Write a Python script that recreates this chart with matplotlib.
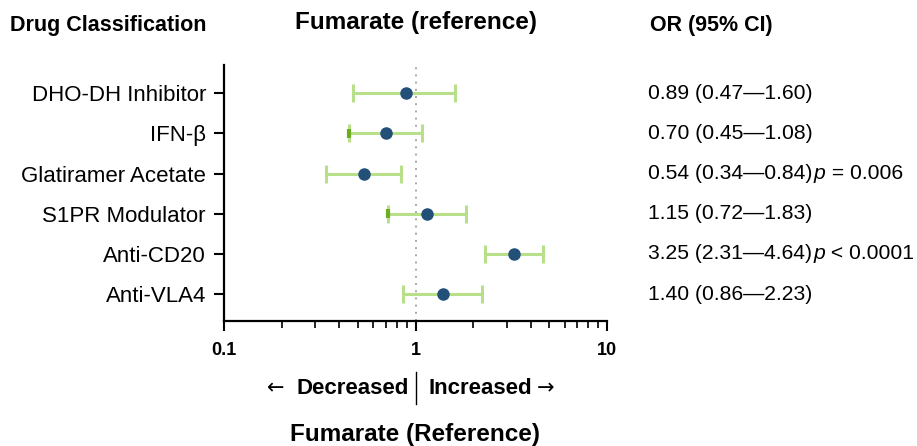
import matplotlib.pyplot as plt
import numpy as np

plt.rcParams["font.family"] = ["Liberation Sans", "DejaVu Sans"]

drugs = ["DHO-DH Inhibitor", "IFN-β", "Glatiramer Acetate",
         "S1PR Modulator", "Anti-CD20", "Anti-VLA4"]
odds = [0.89, 0.70, 0.54, 1.15, 3.25, 1.40]
lower = [0.47, 0.45, 0.34, 0.72, 2.31, 0.86]
upper = [1.60, 1.08, 0.84, 1.83, 4.64, 2.23]
pvals = ["", "", " = 0.006", "", " < 0.0001", ""]
dark_left_cap = [False, True, False, True, False, False]

fig = plt.figure(figsize=(9.17, 4.46), dpi=100)
ax = fig.add_axes([224 / 917, 1 - 321 / 446, (607 - 224) / 917, (321 - 65) / 446])

n = len(drugs)
ypos = np.arange(n, 0, -1)
odds_a = np.array(odds)
err = [odds_a - np.array(lower), np.array(upper) - odds_a]

ax.axvline(1, color="#a8a8a8", ls=(0, (1, 2.7)), lw=1.4, zorder=1)
ax.errorbar(odds, ypos, xerr=err, fmt="none", ecolor="#b8df8a", elinewidth=2.2,
            capsize=6.5, capthick=2.2, zorder=2)
for i in range(n):
    if dark_left_cap[i]:
        ax.plot([lower[i], lower[i]], [ypos[i] - 0.115, ypos[i] + 0.115],
                color="#6cae22", lw=3, zorder=3, solid_capstyle="butt")
ax.plot(odds, ypos, "o", color="#235079", ms=8, zorder=4)

ax.set_xscale("log")
ax.set_xlim(0.1, 10)
ax.set_ylim(0.33, 6.7)
ax.set_xticks([0.1, 1, 10])
ax.set_xticklabels(["0.1", "1", "10"], fontweight="bold", fontsize=13)
ax.set_yticks(ypos)
ax.set_yticklabels(drugs, fontsize=16)
ax.tick_params(axis="x", which="major", length=7, width=1.5, pad=8)
ax.tick_params(axis="x", which="minor", length=5, width=1.2)
ax.tick_params(axis="y", length=7, width=1.5, pad=6)
for side in ["top", "right"]:
    ax.spines[side].set_visible(False)
for side in ["left", "bottom"]:
    ax.spines[side].set_linewidth(1.6)

for i in range(n):
    txt = "%.2f (%.2f—%.2f)" % (odds[i], lower[i], upper[i])
    t = ax.annotate(txt, xy=(648 / 917, ypos[i]), xycoords=("figure fraction", "data"),
                    va="center", ha="left", fontsize=15.2)
    if pvals[i]:
        tp = ax.annotate("p", xy=(1, 0.5), xycoords=t, xytext=(1, 0),
                         textcoords="offset points", va="center", ha="left",
                         fontsize=15.2, style="italic")
        ax.annotate(pvals[i], xy=(1, 0.5), xycoords=tp, va="center", ha="left",
                    fontsize=15.2)

fig.text(10 / 917, 1 - 26 / 446, "Drug Classification", fontweight="bold",
         fontsize=15.5, va="center", ha="left")
fig.text(416 / 917, 1 - 22 / 446, "Fumarate (reference)", fontweight="bold",
         fontsize=17.5, va="center", ha="center")
fig.text(650 / 917, 1 - 26 / 446, "OR (95% CI)", fontweight="bold",
         fontsize=15.5, va="center", ha="left")

fig.text(267 / 917, 1 - 388 / 446, "←", fontsize=15, va="center", ha="left",
         family="DejaVu Sans")
fig.text(296 / 917, 1 - 388 / 446, "Decreased", fontweight="bold",
         fontsize=16, va="center", ha="left")
fig.text(429 / 917, 1 - 388 / 446, "Increased", fontweight="bold",
         fontsize=16, va="center", ha="left")
fig.text(537 / 917, 1 - 388 / 446, "→", fontsize=15, va="center", ha="left",
         family="DejaVu Sans")
fig.add_artist(plt.Line2D([416 / 917, 416 / 917], [1 - 372 / 446, 1 - 404 / 446],
                          color="black", lw=1))
fig.text(415 / 917, 1 - 434 / 446, "Fumarate (Reference)", fontweight="bold",
         fontsize=17.5, va="center", ha="center")

fig.savefig("out.png", dpi=100)
